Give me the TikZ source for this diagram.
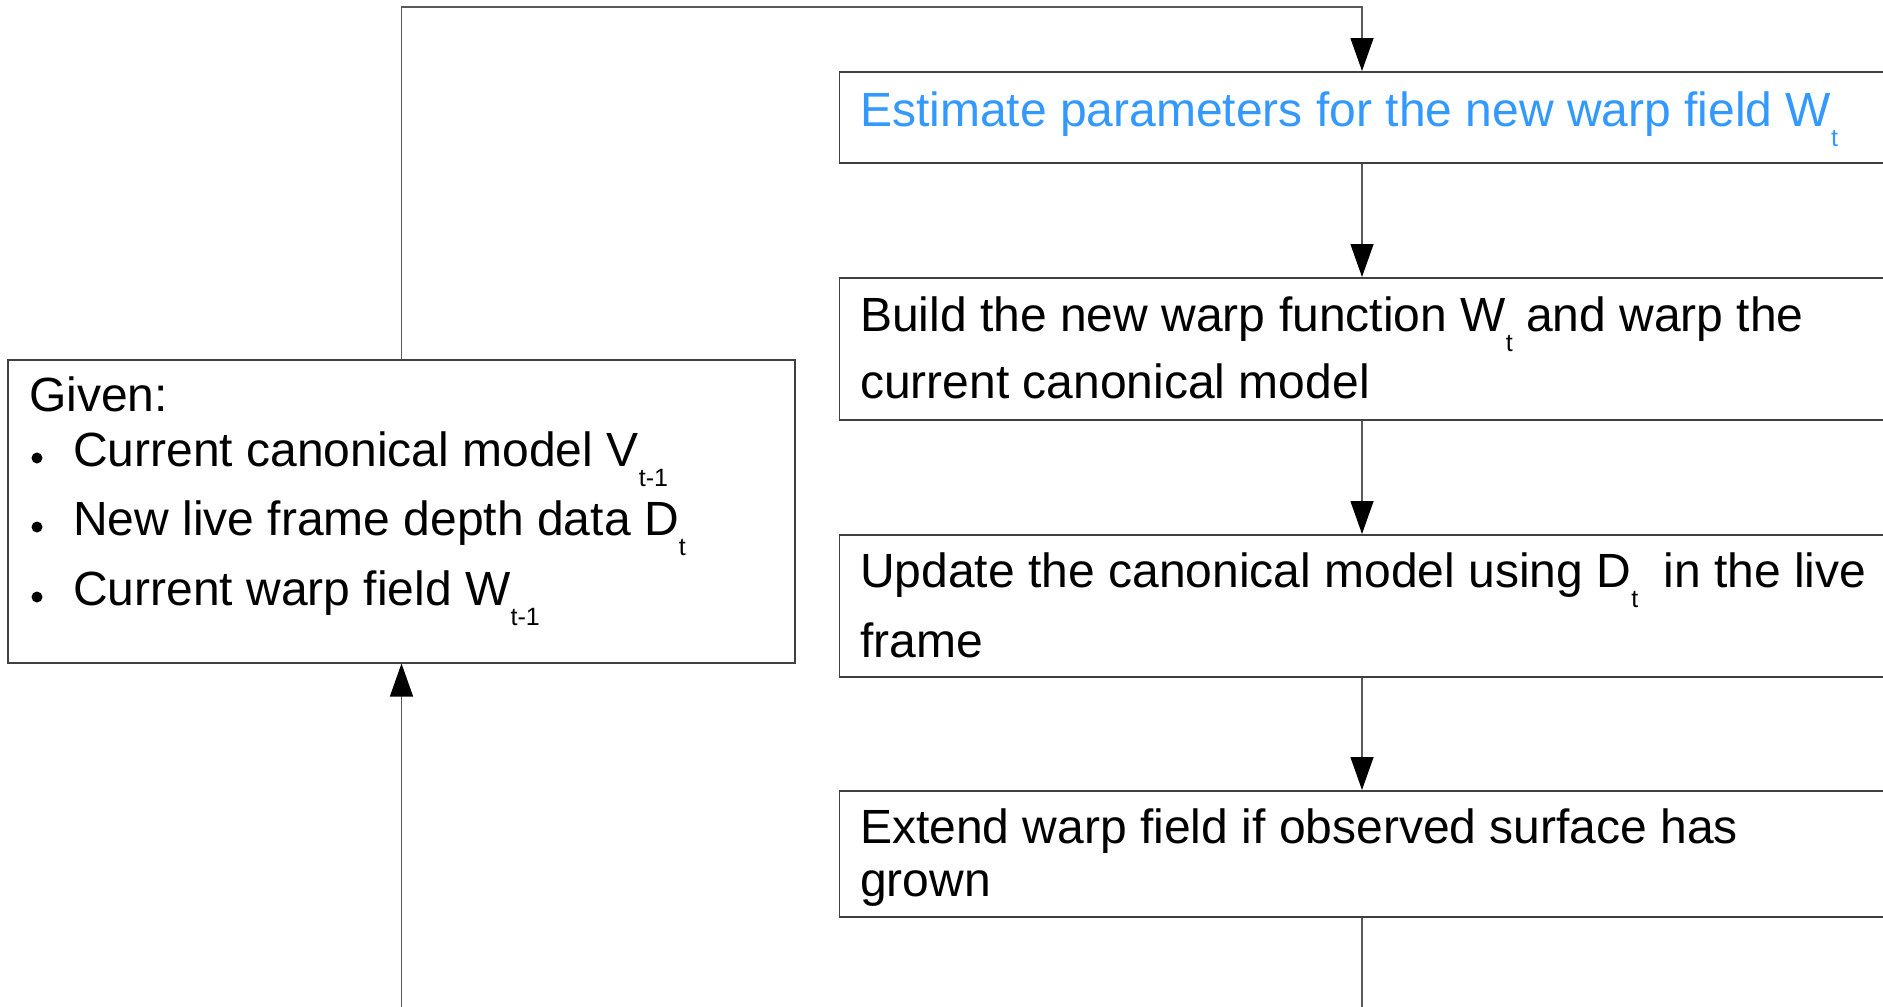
\documentclass[tikz,border=0pt]{standalone}
\usepackage{fontspec}
\setmainfont{Liberation Sans}
\usetikzlibrary{arrows.meta}
\definecolor{txtblue}{RGB}{51,153,255}
\newcommand{\lowsub}[1]{\raisebox{-20pt}{\fontsize{25pt}{25pt}\selectfont #1}}
\begin{document}
\begin{tikzpicture}[x=1pt,y=-1pt,
  box/.style={draw=black!75,line width=1.5pt,rectangle,inner sep=0pt,anchor=north},
  conn/.style={draw=black!65,line width=1.3pt},
  arr/.style={conn,-{Triangle[length=33pt,width=23pt,color=black]}},
  txt/.style={anchor=base west,inner sep=0pt,font=\fontsize{48pt}{56pt}\selectfont},
  bul/.style={circle,fill=black,inner sep=0pt,minimum size=11pt}]
\clip (0,0) rectangle (1883,1007);
\fill[white] (0,0) rectangle (1883,1007);

% boxes
\node[box,minimum width=1045pt,minimum height=91pt] (b1) at (1362,71) {};
\node[box,minimum width=1045pt,minimum height=142pt] (b2) at (1362,277) {};
\node[box,minimum width=1045pt,minimum height=142pt] (b3) at (1362,534) {};
\node[box,minimum width=1045pt,minimum height=126pt] (b4) at (1362,790) {};
\node[box,minimum width=787pt,minimum height=303pt] (given) at (401.5,359) {};

% texts
\node[txt,text=txtblue] (t1) at (860,126) {Estimate parameters for the new warp field W\lowsub{t}};
\node[txt] (t2a) at (860,331) {Build the new warp function W\lowsub{t} and warp the};
\node[txt] (t2b) at (860,398) {current canonical model};
\node[txt] (t3a) at (860,587) {Update the canonical model using D\lowsub{t}\hspace{12pt} in the live};
\node[txt] (t3b) at (860,657) {frame};
\node[txt] (t4a) at (860,843) {Extend warp field if observed surface has};
\node[txt] (t4b) at (860,896) {grown};

\node[txt] (g0) at (29,411) {Given:};
\node[bul] (gb1) at (37,458) {};
\node[txt] (g1) at (73,466) {Current canonical model V\lowsub{t-1}};
\node[bul] (gb2) at (37,527) {};
\node[txt] (g2) at (73,535) {New live frame depth data D\lowsub{t}};
\node[bul] (gb3) at (37,597) {};
\node[txt] (g3) at (73,605) {Current warp field W\lowsub{t-1}};

% connectors
\coordinate (topc) at (1362,7);
\coordinate (botr) at (1362,1015);
\coordinate (botl) at (401.5,1015);
\draw[arr] (given.north) |- (topc) -- (b1.north);
\draw[arr] (b1.south) -- (b2.north);
\draw[arr] (b2.south) -- (b3.north);
\draw[arr] (b3.south) -- (b4.north);
\draw[conn] (b4.south) -- (botr);
\draw[arr] (botl) -- (given.south);
\end{tikzpicture}
\end{document}
